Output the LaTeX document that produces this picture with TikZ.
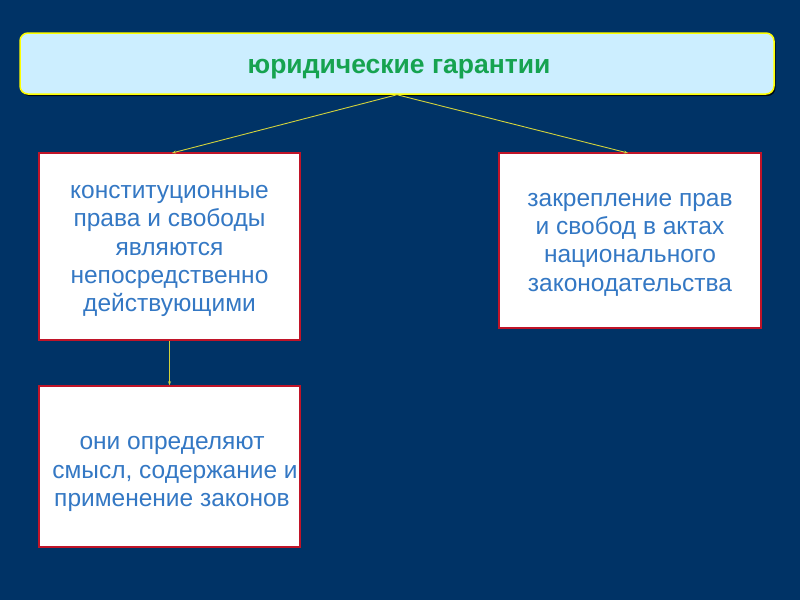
\documentclass[tikz,border=0pt]{standalone}
\usepackage{fontspec}
\setmainfont{Liberation Sans}
\usetikzlibrary{arrows.meta,shadows}
\definecolor{bgnavy}{RGB}{0,51,102}
\definecolor{topfill}{RGB}{204,238,255}
\definecolor{topline}{RGB}{255,255,0}
\definecolor{titlegreen}{RGB}{22,163,80}
\definecolor{boxred}{RGB}{192,20,40}
\definecolor{textblue}{RGB}{52,120,196}
\definecolor{linkcol}{RGB}{210,210,60}
\tikzset{
  topbox/.style={draw=topline, line width=1.5pt, fill=topfill, rounded corners=8pt,
    drop shadow={shadow xshift=1.5pt, shadow yshift=-2pt, fill=black, opacity=0.8},
    minimum width=754pt, minimum height=61pt, inner sep=0pt},
  titletxt/.style={inner sep=0pt, font=\fontsize{26.5}{30}\selectfont\bfseries, text=titlegreen},
  wbox/.style={draw=boxred, line width=1.5pt, fill=white, inner sep=0pt},
  btxt/.style={inner sep=0pt, font=\fontsize{24.5}{28.3}\selectfont, text=textblue, align=center},
  link/.style={draw=linkcol, line width=0.9pt, -{Stealth[length=4pt,width=3pt]}}
}
\begin{document}
\begin{tikzpicture}[x=1pt,y=-1pt]
\fill[bgnavy] (0,0) rectangle (800,600);
\useasboundingbox (0,0) rectangle (800,600);
\node[topbox] (top) at (397,63.5) {};
\node[titletxt] (tt) at (399,69) {юридические гарантии};
\node[wbox, minimum width=261pt, minimum height=187pt] (b1) at (169.5,246.5) {};
\node[btxt] (t1) at (169.5,251)
  {конституционные\\права и свободы\\являются\\непосредственно\\действующими};
\node[wbox, minimum width=262pt, minimum height=175pt] (b2) at (630,240.5) {};
\node[btxt] (t2) at (630,244.5)
  {закрепление прав\\и свобод в актах\\национального\\законодательства};
\node[wbox, minimum width=261pt, minimum height=161pt] (b3) at (169.5,466.5) {};
\node[btxt] (t3) at (172,474)
  {они определяют\\\hspace*{6pt}смысл, содержание и\\применение законов};
\coordinate (c1) at (172,153);
\coordinate (c2) at (628,153);
\draw[link] (top.south) -- (c1);
\draw[link] (top.south) -- (c2);
\draw[link] (b1.south) -- (b3.north);
\end{tikzpicture}
\end{document}
